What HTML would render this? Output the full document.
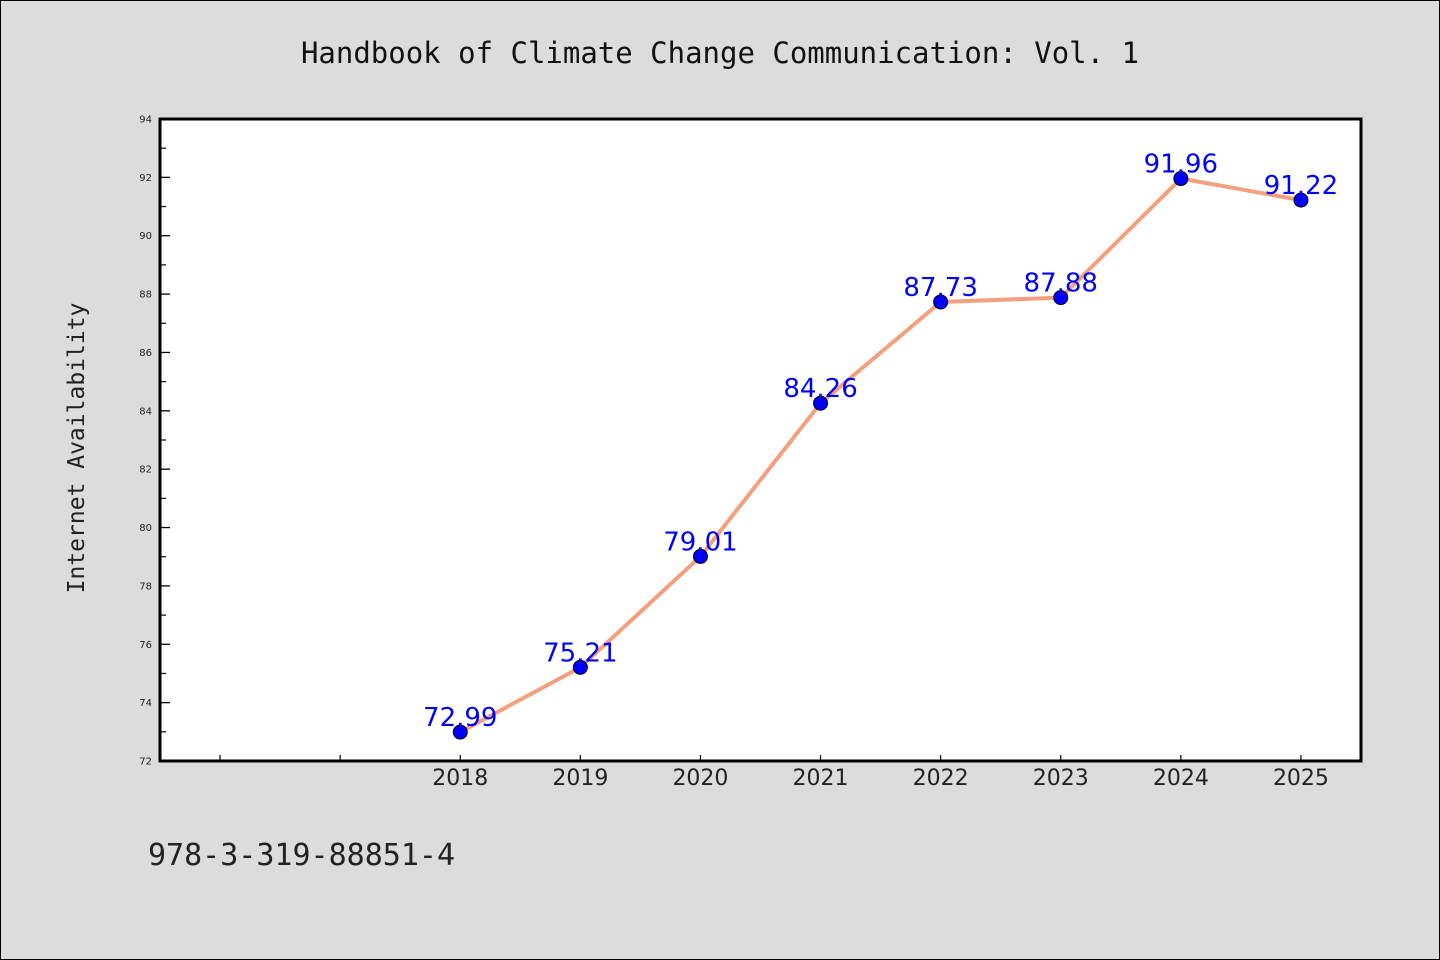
<!DOCTYPE html>
<html><head><meta charset="utf-8"><style>
html,body{margin:0;padding:0;background:#dcdcdc;}
svg{display:block;font-family:"DejaVu Sans","Liberation Sans",sans-serif;}
</style></head><body>
<svg id="chart" width="1440" height="960" viewBox="0 0 1440 960" xmlns="http://www.w3.org/2000/svg">
<rect x="0.5" y="0.5" width="1439" height="959" fill="#dcdcdc" stroke="#000" stroke-width="1"/>
<text x="720" y="63" text-anchor="middle" font-family="'DejaVu Sans Mono','Liberation Mono',monospace" font-size="29" fill="#111">Handbook of Climate Change Communication: Vol. 1</text>
<rect x="160" y="119" width="1201" height="642" fill="#fff" stroke="#000" stroke-width="3"/>
<text transform="translate(84,448) rotate(-90)" text-anchor="middle" font-family="'DejaVu Sans Mono','Liberation Mono',monospace" font-size="23" fill="#222">Internet Availability</text>
<text x="148" y="865" font-family="'DejaVu Sans Mono','Liberation Mono',monospace" font-size="30" fill="#222">978-3-319-88851-4</text>
<g id="axes"></g>
<g id="marks"></g>
</svg>
<script>
const categories = [2018, 2019, 2020, 2021, 2022, 2023, 2024, 2025];
const values = [72.99, 75.21, 79.01, 84.26, 87.73, 87.88, 91.96, 91.22];
const valueLabels = ["72.99", "75.21", "79.01", "84.26", "87.73", "87.88", "91.96", "91.22"];
const yTicks = [72, 74, 76, 78, 80, 82, 84, 86, 88, 90, 92, 94];
const xTickYears = [2016, 2017, 2018, 2019, 2020, 2021, 2022, 2023, 2024, 2025];

const L = 160, R = 1361, T = 119, B = 761;
const xMin = 2015.5, xMax = 2025.5, yMin = 72, yMax = 94;
const x = v => L + (v - xMin) / (xMax - xMin) * (R - L);
const y = v => B - (v - yMin) / (yMax - yMin) * (B - T);
const NS = "http://www.w3.org/2000/svg";
function mk(tag, attrs, parent) {
  const e = document.createElementNS(NS, tag);
  for (const k in attrs) e.setAttribute(k, attrs[k]);
  parent.appendChild(e);
  return e;
}
const axes = document.getElementById('axes');
const marks = document.getElementById('marks');

yTicks.forEach((t, i) => {
  const tk = mk('line', {x1: L, x2: L + 10, y1: y(t), y2: y(t), stroke: '#000', 'stroke-width': 1.3}, axes);
  
  
  const lb = mk('text', {x: 152, y: y(t) + 3.5, 'text-anchor': 'end', 'font-size': 10, fill: '#222'}, axes);
  
  
  lb.textContent = t;
  if (i < yTicks.length - 1) {
    const m = (t + yTicks[i + 1]) / 2;
    const mn = mk('line', {x1: L, x2: L + 6, y1: y(m), y2: y(m), stroke: '#000', 'stroke-width': 1.2}, axes);
    
    
  }
});
xTickYears.forEach(yr => {
  const tk = mk('line', {x1: x(yr), x2: x(yr), y1: B, y2: B - 6, stroke: '#000', 'stroke-width': 1.2}, axes);
  
  
});
categories.forEach(c => {
  const lb = mk('text', {x: x(c), y: B + 24, 'text-anchor': 'middle', 'font-size': 22, fill: '#222'}, axes);
  
  
  lb.textContent = c;
});

const pts = categories.map((c, i) => x(c) + ',' + y(values[i])).join(' ');
const line = mk('polyline', {points: pts, fill: 'none', stroke: '#f4a07f', 'stroke-width': 4, 'stroke-linejoin': 'round'}, marks);


categories.forEach((c, i) => {
  const p = mk('circle', {cx: x(c), cy: y(values[i]), r: 7, fill: '#0000ff', stroke: '#000', 'stroke-width': 1}, marks);
  
  
});
categories.forEach((c, i) => {
  const t = mk('text', {x: x(c), y: y(values[i]) - 6, 'text-anchor': 'middle', 'font-size': 26, fill: '#0000ff'}, marks);
  
  
  t.textContent = valueLabels[i];
});
</script>
</body></html>
